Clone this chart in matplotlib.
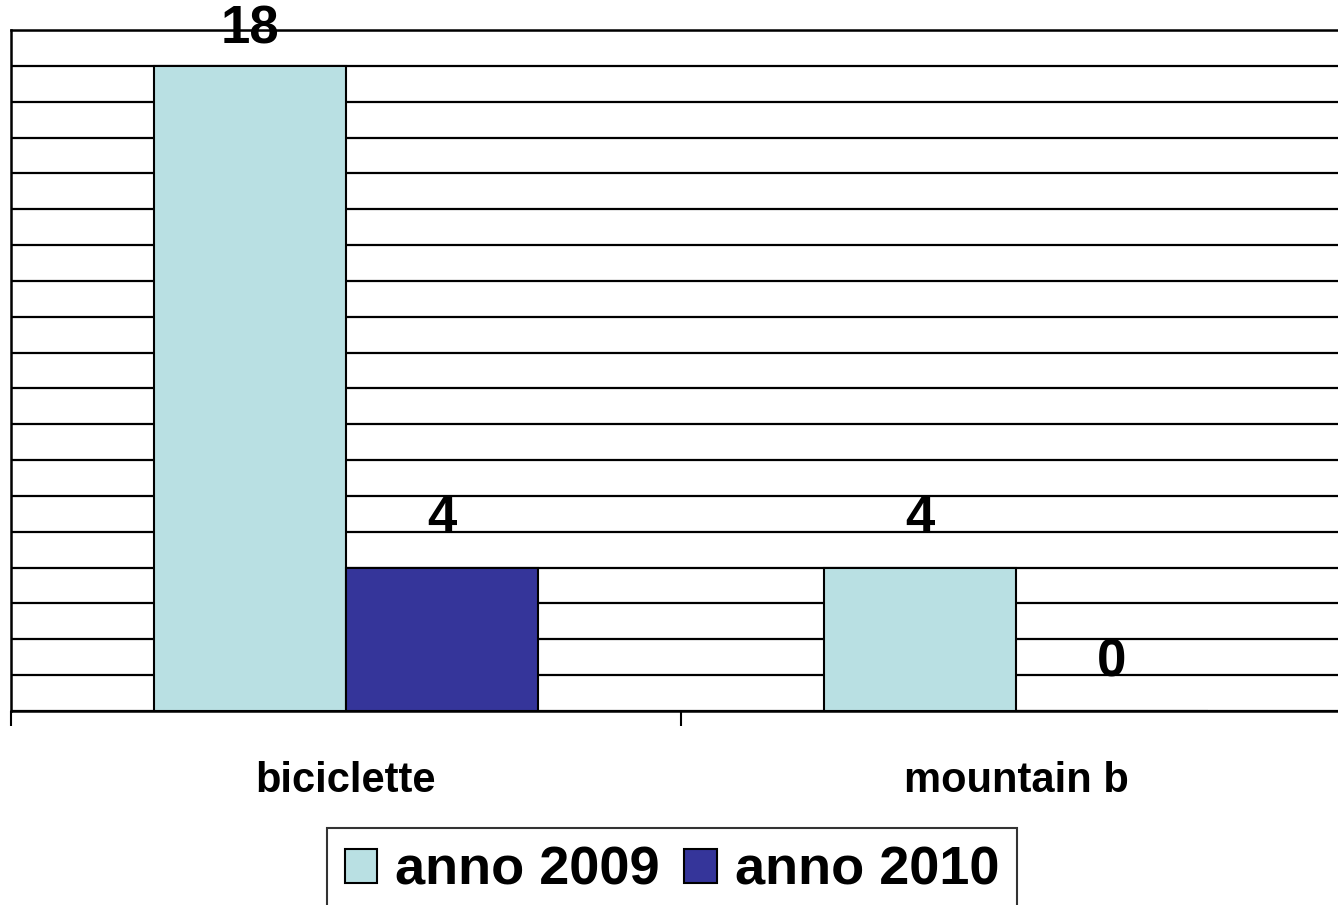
import numpy as np
import matplotlib.pyplot as plt

categories = ['biciclette', 'mountain b']
series = ['anno 2009', 'anno 2010']
values_2009 = [18, 4]
values_2010 = [4, 0]
colors = ['#b9e0e3', '#35359a']

plt.rcParams['font.family'] = ['Liberation Sans', 'DejaVu Sans']
plt.rcParams['font.weight'] = 'bold'

fig = plt.figure(figsize=(13.38, 9.05), dpi=100)
ax = fig.add_axes([11 / 1338, 194 / 905, 1340 / 1338, 681 / 905])

x = np.arange(len(categories))
w = 0.286
for i, (vals, label, color) in enumerate(zip([values_2009, values_2010], series, colors)):
    b = ax.bar(x + (i - 0.5) * w, vals, width=w, color=color, edgecolor='black',
               linewidth=1.5, label=label, zorder=3)
    for rect, v in zip(b, vals):
        ax.annotate(str(v), (rect.get_x() + rect.get_width() / 2, v),
                    xytext=(0, 35 if v < 18 else 26), textcoords='offset points',
                    ha='center', va='center', fontsize=38, fontweight='bold',
                    clip_on=False, zorder=5)

ax.set_ylim(0, 19)
ax.set_xlim(-0.5, 1.5)
ax.set_yticks(np.arange(0, 20))
ax.yaxis.grid(True, color='black', linewidth=1.6, zorder=0)
ax.tick_params(axis='y', length=0, labelleft=False)

ax.set_xticks(x)
ax.set_xticklabels(categories, fontsize=30, fontweight='bold')
ax.tick_params(axis='x', which='major', length=0, pad=36)
ax.set_xticks([-0.5, 0.5, 1.5], minor=True)
ax.tick_params(axis='x', which='minor', length=11, width=1.5, direction='out')

for s in ['left', 'bottom', 'top', 'right']:
    ax.spines[s].set_linewidth(1.8)
    ax.spines[s].set_color('black')

leg = fig.legend(loc='upper left', bbox_to_anchor=(327 / 1338, 1 - 828 / 905), ncol=2,
                 fontsize=39, frameon=True, fancybox=False, edgecolor='black',
                 handlelength=0.6, handleheight=0.6, handletextpad=0.33,
                 columnspacing=0.45, borderpad=0.33, borderaxespad=0)
leg.get_frame().set_linewidth(1.5)
for t in leg.get_texts():
    t.set_fontweight('bold')

fig.savefig('out.png', dpi=100)
